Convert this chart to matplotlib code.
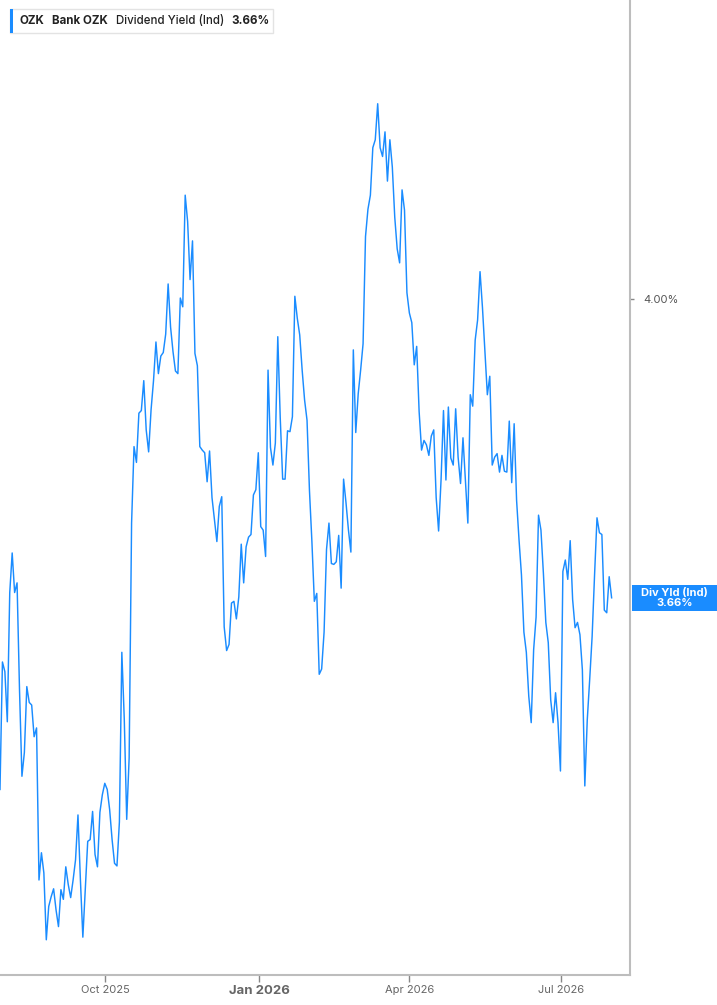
import matplotlib.pyplot as plt
import matplotlib.transforms as mtransforms
from matplotlib.patches import Rectangle
from matplotlib.text import Annotation
import pandas as pd

plt.rcParams['font.family'] = ['Inter', 'DejaVu Sans']

# daily indicated dividend yield (%) for Bank OZK
yld = [
    3.442, 3.587, 3.576, 3.519, 3.666, 3.711, 3.666, 3.677, 3.556, 3.457,
    3.484, 3.559, 3.541, 3.538, 3.502, 3.512, 3.339, 3.370, 3.347, 3.271,
    3.309, 3.320, 3.329, 3.305, 3.286, 3.328, 3.317, 3.354, 3.334, 3.319,
    3.339, 3.362, 3.413, 3.339, 3.274, 3.328, 3.383, 3.385, 3.417, 3.368,
    3.354, 3.416, 3.436, 3.449, 3.442, 3.419, 3.385, 3.358, 3.355, 3.405,
    3.598, 3.522, 3.408, 3.478, 3.745, 3.832, 3.814, 3.870, 3.873, 3.907,
    3.851, 3.826, 3.874, 3.907, 3.951, 3.915, 3.935, 3.939, 3.960, 4.017,
    3.968, 3.940, 3.918, 3.915, 4.001, 3.991, 4.118, 4.088, 4.022, 4.066,
    3.938, 3.924, 3.832, 3.828, 3.825, 3.792, 3.827, 3.774, 3.749, 3.724,
    3.764, 3.775, 3.627, 3.600, 3.607, 3.654, 3.656, 3.636, 3.661, 3.721,
    3.677, 3.718, 3.729, 3.732, 3.777, 3.783, 3.825, 3.741, 3.737, 3.707,
    3.919, 3.831, 3.811, 3.836, 3.957, 3.865, 3.795, 3.795, 3.850, 3.849,
    3.866, 4.003, 3.978, 3.959, 3.919, 3.885, 3.862, 3.782, 3.724, 3.656,
    3.665, 3.573, 3.579, 3.621, 3.715, 3.745, 3.699, 3.698, 3.701, 3.731,
    3.671, 3.795, 3.768, 3.737, 3.712, 3.942, 3.848, 3.892, 3.919, 3.949,
    4.071, 4.102, 4.118, 4.172, 4.181, 4.222, 4.172, 4.162, 4.190, 4.134,
    4.181, 4.150, 4.093, 4.057, 4.041, 4.124, 4.101, 4.007, 3.984, 3.973,
    3.925, 3.946, 3.872, 3.828, 3.839, 3.834, 3.822, 3.844, 3.851, 3.774,
    3.736, 3.794, 3.873, 3.794, 3.877, 3.819, 3.811, 3.875, 3.820, 3.790,
    3.842, 3.794, 3.745, 3.891, 3.878, 3.953, 3.976, 4.031, 3.990, 3.940,
    3.891, 3.912, 3.811, 3.820, 3.824, 3.803, 3.822, 3.804, 3.803, 3.861,
    3.791, 3.858, 3.771, 3.726, 3.686, 3.621, 3.598, 3.548, 3.518, 3.601,
    3.638, 3.754, 3.737, 3.688, 3.632, 3.609, 3.544, 3.518, 3.552, 3.518,
    3.463, 3.690, 3.703, 3.681, 3.725, 3.658, 3.626, 3.632, 3.618, 3.578,
    3.446, 3.521, 3.567, 3.616, 3.686, 3.751, 3.734, 3.732, 3.646, 3.643,
    3.684, 3.660,
]
dates = pd.date_range('2025-07-30', '2026-07-31', periods=len(yld))

tick_dates = pd.to_datetime(['2025-10-01', '2026-01-01', '2026-04-01', '2026-07-01'])
tick_labels = ['Oct 2025', 'Jan 2026', 'Apr 2026', 'Jul 2026']
last_val = '3.66%'

line_col = '#1a8cff'
axis_col = '#bdbdbd'

fig = plt.figure(figsize=(7.17, 10.05), dpi=100)
ax = fig.add_axes([0, 0.0299, 630 / 717, 0.9701])
ax.plot(dates, yld, color=line_col, lw=1.05)

ax.set_xlim(pd.Timestamp('2025-07-30'), pd.Timestamp('2026-08-11'))
ax.set_ylim(3.231, 4.340)

for s in ['top', 'left']:
    ax.spines[s].set_visible(False)
for s in ['right', 'bottom']:
    ax.spines[s].set_color(axis_col)
    ax.spines[s].set_linewidth(1.5)

ax.set_xticks(tick_dates)
ax.set_xticklabels(tick_labels)
ax.tick_params(axis='x', length=5, width=1, color='#888888', colors='#666666',
               labelsize=8, pad=2.5)
ax.get_xticklabels()[1].set_fontweight('bold')
ax.get_xticklabels()[1].set_fontsize(9.5)

ax.yaxis.tick_right()
ax.set_yticks([4.0])
ax.set_yticklabels(['4.00%'])
ax.tick_params(axis='y', length=3, width=1, color='#888888', colors='#555555',
               labelsize=8, pad=6.5)

# last value tag on the right
tr = mtransforms.blended_transform_factory(ax.transAxes, ax.transData)
ax.add_patch(Rectangle((1.003, yld[-1] - 0.0148), 0.136, 0.0296, transform=tr,
                       facecolor=line_col, edgecolor='none', clip_on=False))
ax.text(1.0706, yld[-1], 'Div Yld (Ind)\n' + last_val, transform=tr, ha='center',
        va='center', color='white', fontsize=8, fontweight='bold',
        linespacing=1.0, clip_on=False)

# legend box at top left
fig.add_artist(Rectangle((10 / 717, 1 - 33 / 1005), 263 / 717, 24 / 1005,
                         transform=fig.transFigure, facecolor='white',
                         edgecolor='#e3e3e3', lw=1, zorder=5))
fig.add_artist(Rectangle((10 / 717, 1 - 33 / 1005), 3 / 717, 24 / 1005,
                         transform=fig.transFigure, facecolor=line_col,
                         edgecolor='none', zorder=6))
t1 = fig.text(20 / 717, 1 - 21 / 1005, 'OZK', fontsize=8.3, fontweight='bold',
              color='#222222', va='center', zorder=7)
prev = t1
for txt, wt in [('Bank OZK', 'bold'), ('Dividend Yield (Ind)', 'medium'),
                (last_val, 'bold')]:
    a = Annotation(txt, xy=(1, 0), xycoords=prev, xytext=(5.5, 0),
                   textcoords='offset points', fontsize=8.3, fontweight=wt,
                   color='#222222', va='bottom', zorder=7)
    fig.add_artist(a)
    prev = a

fig.savefig('out.png', dpi=100)
